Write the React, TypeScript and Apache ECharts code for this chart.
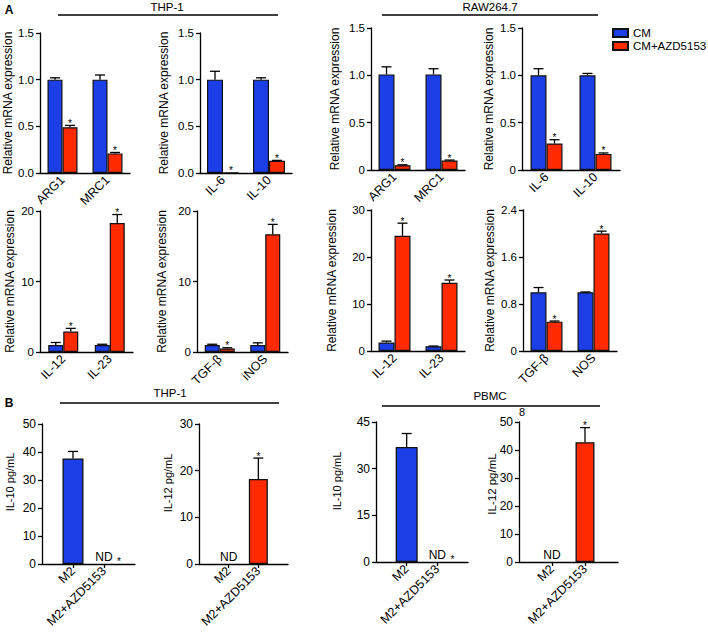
import React, { useEffect, useRef } from 'react';
import * as echarts from 'echarts';

const FONT = '"Liberation Sans", Arial, Helvetica, sans-serif';
const BLUE = '#1c3ee6';
const RED = '#ff2a00';
const CM_NAME = 'CM';
const AZD_NAME = 'CM+AZD5153';

// ---------- Panel A data ----------
// THP-1 M2 markers
const thpM2Genes = ['ARG1', 'MRC1'];
const thpM2CM = [1.0, 1.0];
const thpM2CMErr = [0.02, 0.05];
const thpM2AZD = [0.49, 0.21];
const thpM2AZDErr = [0.02, 0.01];
// THP-1 cytokines
const thpCytGenes = ['IL-6', 'IL-10'];
const thpCytCM = [1.0, 1.0];
const thpCytCMErr = [0.09, 0.02];
const thpCytAZD = [0.005, 0.13];
const thpCytAZDErr = [0, 0.005];
// RAW264.7 M2 markers
const rawM2Genes = ['ARG1', 'MRC1'];
const rawM2CM = [1.01, 1.01];
const rawM2CMErr = [0.08, 0.06];
const rawM2AZD = [0.05, 0.1];
const rawM2AZDErr = [0.005, 0.005];
// RAW264.7 cytokines
const rawCytGenes = ['IL-6', 'IL-10'];
const rawCytCM = [1.0, 1.0];
const rawCytCMErr = [0.07, 0.02];
const rawCytAZD = [0.28, 0.17];
const rawCytAZDErr = [0.04, 0.01];
// THP-1 M1 markers
const thpM1aGenes = ['IL-12', 'IL-23'];
const thpM1aCM = [1.0, 1.0];
const thpM1aCMErr = [0.35, 0.1];
const thpM1aAZD = [2.9, 18.3];
const thpM1aAZDErr = [0.45, 1.2];
const thpM1bGenes = ['TGF-β', 'iNOS'];
const thpM1bCM = [1.0, 1.0];
const thpM1bCMErr = [0.1, 0.3];
const thpM1bAZD = [0.5, 16.7];
const thpM1bAZDErr = [0.1, 1.4];
// RAW264.7 M1 markers
const rawM1aGenes = ['IL-12', 'IL-23'];
const rawM1aCM = [1.8, 1.0];
const rawM1aCMErr = [0.3, 0.05];
const rawM1aAZD = [24.5, 14.5];
const rawM1aAZDErr = [2.7, 0.6];
const rawM1bGenes = ['TGF-β', 'NOS'];
const rawM1bCM = [1.0, 1.0];
const rawM1bCMErr = [0.08, 0.005];
const rawM1bAZD = [0.5, 2.0];
const rawM1bAZDErr = [0.01, 0.04];

// ---------- Panel B data ----------
const bGroups = ['M2', 'M2+AZD5153'];
const thpIL10 = [37.7, null];
const thpIL10Err = [2.5, 0];
const thpIL12 = [null, 18.2];
const thpIL12Err = [0, 4.5];
const pbmcIL10 = [37.0, null];
const pbmcIL10Err = [4.3, 0];
const pbmcIL12 = [null, 42.8];
const pbmcIL12Err = [0, 5.2];

// Y-axis ticks
const yMaxA1 = 1.5, yStepA1 = 0.5;
const yMaxThp2 = 20, yStepThp2 = 10;
const yMaxRaw2a = 30, yStepRaw2a = 10;
const yMaxRaw2b = 2.4, yStepRaw2b = 0.8;

const fixed1 = (v: number) => v.toFixed(1);
const zeroInt1 = (v: number) => (v === 0 ? '0' : v.toFixed(1));
const intFmt = (v: number) => String(Math.round(v));

const groupedPanels = [
  { cats: thpM2Genes, cm: thpM2CM, cmErr: thpM2CMErr, azd: thpM2AZD, azdErr: thpM2AZDErr, max: yMaxA1, step: yStepA1, fmt: fixed1,
    pos: { left: 40, top: 33, width: 90, height: 140 }, gap: 24, bw: 15 },
  { cats: thpCytGenes, cm: thpCytCM, cmErr: thpCytCMErr, azd: thpCytAZD, azdErr: thpCytAZDErr, max: yMaxA1, step: yStepA1, fmt: fixed1,
    pos: { left: 200, top: 33, width: 92, height: 140 }, gap: 30, bw: 16 },
  { cats: rawM2Genes, cm: rawM2CM, cmErr: rawM2CMErr, azd: rawM2AZD, azdErr: rawM2AZDErr, max: yMaxA1, step: yStepA1, fmt: zeroInt1,
    pos: { left: 371, top: 28, width: 94, height: 142 }, gap: 30, bw: 16 },
  { cats: rawCytGenes, cm: rawCytCM, cmErr: rawCytCMErr, azd: rawCytAZD, azdErr: rawCytAZDErr, max: yMaxA1, step: yStepA1, fmt: zeroInt1,
    pos: { left: 522, top: 28, width: 98, height: 142 }, gap: 27, bw: 16 },
  { cats: thpM1aGenes, cm: thpM1aCM, cmErr: thpM1aCMErr, azd: thpM1aAZD, azdErr: thpM1aAZDErr, max: yMaxThp2, step: yStepThp2, fmt: intFmt,
    pos: { left: 40, top: 211, width: 93, height: 141 }, gap: 24, bw: 15 },
  { cats: thpM1bGenes, cm: thpM1bCM, cmErr: thpM1bCMErr, azd: thpM1bAZD, azdErr: thpM1bAZDErr, max: yMaxThp2, step: yStepThp2, fmt: intFmt,
    pos: { left: 197, top: 211, width: 91, height: 141 }, gap: 29, bw: 15 },
  { cats: rawM1aGenes, cm: rawM1aCM, cmErr: rawM1aCMErr, azd: rawM1aAZD, azdErr: rawM1aAZDErr, max: yMaxRaw2a, step: yStepRaw2a, fmt: intFmt,
    pos: { left: 371, top: 210, width: 94, height: 141 }, gap: 33, bw: 16 },
  { cats: rawM1bGenes, cm: rawM1bCM, cmErr: rawM1bCMErr, azd: rawM1bAZD, azdErr: rawM1bAZDErr, max: yMaxRaw2b, step: yStepRaw2b, fmt: zeroInt1,
    pos: { left: 523, top: 210, width: 94, height: 141 }, gap: 27, bw: 16 },
];

const bPanels = [
  { vals: thpIL10, errs: thpIL10Err, name: 'IL-10 pg/mL', max: 50, step: 10, pos: { left: 42, top: 424, width: 93, height: 140 }, nameAt: [10, 482], bw: 21, fs: 11 },
  { vals: thpIL12, errs: thpIL12Err, name: 'IL-12 pg/mL', max: 30, step: 10, pos: { left: 199, top: 424, width: 89, height: 140 }, nameAt: [168, 483], bw: 19, fs: 11 },
  { vals: pbmcIL10, errs: pbmcIL10Err, name: 'IL-10 pg/mL', max: 45, step: 15, pos: { left: 376, top: 422, width: 92, height: 140 }, nameAt: [337, 481], bw: 22, fs: 11 },
  { vals: pbmcIL12, errs: pbmcIL12Err, name: 'IL-12 pg/mL', max: 50, step: 10, pos: { left: 519, top: 422, width: 99, height: 140 }, nameAt: [492, 484], bw: 19, fs: 11.5 },
];

const axisLineStyle = { color: '#000', width: 1.3 };

function errRender(bw: number) {
  return (params: any, api: any) => {
    const x = api.value(0);
    const v = api.value(1);
    const e = api.value(2);
    const side = api.value(3);
    const star = api.value(4);
    const nd = api.value(5);
    const base = api.coord([x, v]);
    const top = api.coord([x, v + e]);
    const cx = base[0] + (side * bw) / 2;
    const cap = 5;
    const children: any[] = [];
    const st = { stroke: '#000', lineWidth: 1.3 };
    if (e > 0) {
      children.push({ type: 'line', shape: { x1: cx, y1: base[1], x2: cx, y2: top[1] }, style: st });
      children.push({ type: 'line', shape: { x1: cx - cap, y1: top[1], x2: cx + cap, y2: top[1] }, style: st });
    }
    if (nd) {
      children.push({ type: 'text', x: cx, y: base[1] - 1, style: { text: 'ND', fill: '#000', fontSize: 12, fontFamily: FONT, align: 'center', verticalAlign: 'bottom' } });
      if (star) {
        children.push({ type: 'text', x: cx + 15, y: base[1] - 3, style: { text: '*', fill: '#000', fontSize: 10, fontFamily: FONT, align: 'center', verticalAlign: 'middle' } });
      }
    } else if (star) {
      children.push({ type: 'text', x: cx, y: top[1] - 2, style: { text: '*', fill: '#000', fontSize: 10, fontFamily: FONT, align: 'center', verticalAlign: 'middle' } });
    }
    return { type: 'group', children };
  };
}

function buildOption() {
  const grid: any[] = [];
  const xAxis: any[] = [];
  const yAxis: any[] = [];
  const series: any[] = [];
  const graphic: any[] = [];
  let idx = 0;

  groupedPanels.forEach((p) => {
    grid.push({ ...p.pos });
    xAxis.push({
      type: 'category', gridIndex: idx, data: p.cats,
      axisLine: { lineStyle: axisLineStyle },
      axisTick: { alignWithLabel: true, length: 4, lineStyle: axisLineStyle },
      axisLabel: { rotate: 45, interval: 0, fontSize: 12.5, color: '#000', fontFamily: FONT, margin: 5 },
      splitLine: { show: false },
    });
    yAxis.push({
      type: 'value', gridIndex: idx, min: 0, max: p.max, interval: p.step,
      name: 'Relative mRNA expression', nameLocation: 'middle', nameGap: p.gap, nameRotate: 90,
      nameTextStyle: { fontSize: 12, color: '#000', fontFamily: FONT },
      axisLine: { show: true, lineStyle: axisLineStyle },
      axisTick: { show: true, length: 4, lineStyle: axisLineStyle },
      axisLabel: { fontSize: 11.5, color: '#000', fontFamily: FONT, margin: 6, formatter: p.fmt },
      splitLine: { show: false },
    });
    const barStyle = (c: string) => ({ color: c, borderColor: '#111', borderWidth: 1.2 });
    series.push({ type: 'bar', name: CM_NAME, xAxisIndex: idx, yAxisIndex: idx, data: p.cm, barWidth: p.bw, barGap: '0%', itemStyle: barStyle(BLUE) });
    series.push({ type: 'bar', name: AZD_NAME, xAxisIndex: idx, yAxisIndex: idx, data: p.azd, barWidth: p.bw, barGap: '0%', itemStyle: barStyle(RED) });
    const errData: any[] = [];
    p.cats.forEach((_, j) => {
      errData.push([j, p.cm[j], p.cmErr[j], -1, 0, 0]);
      errData.push([j, p.azd[j], p.azdErr[j], 1, 1, 0]);
    });
    series.push({ type: 'custom', name: 'err' + idx, xAxisIndex: idx, yAxisIndex: idx, data: errData, renderItem: errRender(p.bw), encode: { x: 0, y: 1 }, z: 5 });
    idx++;
  });

  bPanels.forEach((p) => {
    grid.push({ ...p.pos });
    xAxis.push({
      type: 'value', gridIndex: idx, min: 0, max: 3, interval: 1,
      axisLine: { lineStyle: axisLineStyle },
      axisTick: { show: true, length: 4, lineStyle: axisLineStyle, customValues: [1, 2] },
      axisLabel: {
        rotate: 45, fontSize: 12.5, color: '#000', fontFamily: FONT, margin: 5, customValues: [1, 2],
        formatter: (v: number) => (v === 1 ? bGroups[0] : v === 2 ? bGroups[1] : ''),
      },
      splitLine: { show: false },
    });
    yAxis.push({
      type: 'value', gridIndex: idx, min: 0, max: p.max, interval: p.step,
      axisLine: { show: true, lineStyle: axisLineStyle },
      axisTick: { show: true, length: 4, lineStyle: axisLineStyle },
      axisLabel: { fontSize: 12, color: '#000', fontFamily: FONT, margin: 6 },
      splitLine: { show: false },
    });
    graphic.push({
      type: 'text', x: p.nameAt[0], y: p.nameAt[1], rotation: Math.PI / 2,
      style: { text: p.name, fill: '#000', fontSize: p.fs, fontFamily: FONT, align: 'center', verticalAlign: 'middle' },
    });
    const barStyle = (c: string) => ({ color: c, borderColor: '#111', borderWidth: 1.3 });
    const blueData = p.vals[0] != null ? [[1, p.vals[0]]] : [];
    const redData = p.vals[1] != null ? [[2, p.vals[1]]] : [];
    series.push({ type: 'bar', name: 'M2-' + idx, xAxisIndex: idx, yAxisIndex: idx, data: blueData, barWidth: p.bw, itemStyle: barStyle(BLUE) });
    series.push({ type: 'bar', name: 'AZD-' + idx, xAxisIndex: idx, yAxisIndex: idx, data: redData, barWidth: p.bw, barGap: '-100%', itemStyle: barStyle(RED) });
    const errData: any[] = [];
    p.vals.forEach((v, j) => {
      const isNd = v == null ? 1 : 0;
      errData.push([j + 1, v == null ? 0 : v, p.errs[j], 0, j === 1 ? 1 : 0, isNd]);
    });
    series.push({ type: 'custom', name: 'errB' + idx, xAxisIndex: idx, yAxisIndex: idx, data: errData, renderItem: errRender(0), encode: { x: 0, y: 1 }, z: 5 });
    idx++;
  });

  const hdrText = (text: string, x: number, y: number, size = 11.5) => ({
    type: 'text', x, y, style: { text, fill: '#000', fontSize: size, fontFamily: FONT, align: 'center', verticalAlign: 'middle' },
  });
  const hdrLine = (x1: number, x2: number, y: number) => ({
    type: 'line', shape: { x1, y1: y, x2, y2: y }, style: { stroke: '#000', lineWidth: 1.3 },
  });

  graphic.push(
    { type: 'text', x: 9, y: 10, style: { text: 'A', fill: '#000', fontSize: 12, fontWeight: 'bold', fontFamily: FONT, align: 'center', verticalAlign: 'middle' } },
    { type: 'text', x: 9, y: 403, style: { text: 'B', fill: '#000', fontSize: 12, fontWeight: 'bold', fontFamily: FONT, align: 'center', verticalAlign: 'middle' } },
    hdrText('THP-1', 167, 7),
    hdrLine(58, 278, 15),
    hdrText('RAW264.7', 490, 7),
    hdrLine(382, 598, 15),
    hdrText('THP-1', 170, 393),
    hdrLine(60, 279, 403),
    hdrText('PBMC', 490, 396),
    hdrLine(382, 600, 406),
    hdrText('8', 522, 412, 11),
  );

  return {
    animation: false,
    backgroundColor: '#fff',
    textStyle: { fontFamily: FONT },
    legend: {
      data: [CM_NAME, AZD_NAME], orient: 'vertical', left: 607, top: 22,
      itemWidth: 15, itemHeight: 8, itemGap: 1, icon: 'rect',
      textStyle: { fontSize: 11.5, color: '#000', fontFamily: FONT },
    },
    grid, xAxis, yAxis, series, graphic,
  };
}

export default function App() {
  const ref = useRef<HTMLDivElement>(null);
  useEffect(() => {
    if (!ref.current) return;
    const chart = echarts.init(ref.current, null, { renderer: 'svg' });
    chart.setOption(buildOption() as any);
    return () => chart.dispose();
  }, []);
  return <div ref={ref} style={{ position: 'fixed', left: 0, top: 0, width: 708, height: 632, background: '#fff' }} />;
}
